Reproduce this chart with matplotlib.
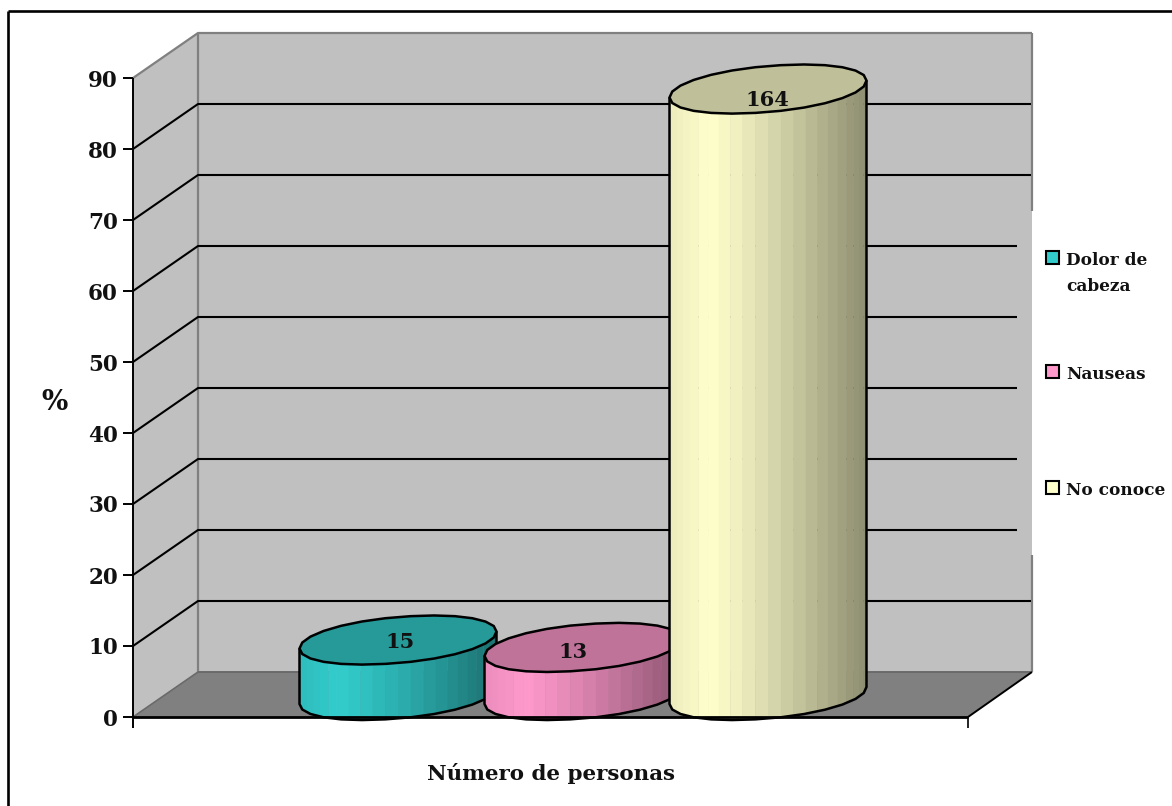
import numpy as np
import matplotlib
matplotlib.use("Agg")
import matplotlib.pyplot as plt
from matplotlib.patches import Polygon, Rectangle
from matplotlib.transforms import Affine2D

# Survey answers
categories = ["Dolor de\ncabeza", "Nauseas", "No conoce"]
counts = [15, 13, 164]
y_ticks = [0, 10, 20, 30, 40, 50, 60, 70, 80, 90]
x_title = "Número de personas"
y_title = "%"

# Side colours at their brightest, one per category
side_colors = [(51, 204, 204), (255, 153, 204), (255, 255, 204)]

W, H = 1172, 806
DPI = 100
FONT = "DejaVu Serif"
INK = "#111111"

percent = [c / sum(counts) * 100 for c in counts]

fig = plt.figure(figsize=(W / DPI, H / DPI), dpi=DPI, facecolor="white")
ax = fig.add_axes([0, 0, 1, 1])
ax.axis("off")

# Vertical scale: percent on the front plane of the 3D box, 7.1 px per unit
Y0_PX, PX_PER_UNIT = 717.0, 7.1
ax.set_ylim((Y0_PX - H) / PX_PER_UNIT, Y0_PX / PX_PER_UNIT)
# Horizontal scale: category index, columns 185 px apart
X0_PX, PX_PER_CAT = 398.0, 185.0
ax.set_xlim(-X0_PX / PX_PER_CAT, (W - X0_PX) / PX_PER_CAT)

# Layout elements are placed in pixels measured from the top-left corner
px = Affine2D().scale(1, -1).translate(0, H)

LEFT, RIGHT = 133, 968
DX, DY = 65, 45
BACK_BASE = Y0_PX - DY


def ypx(v, back=False):
    return (BACK_BASE if back else Y0_PX) - v * PX_PER_UNIT


def poly(points, **kw):
    ax.add_patch(Polygon(points, closed=True, transform=px, **kw))


def line(xs, ys, color="black", lw=1.4, z=2):
    ax.plot(xs, ys, color=color, lw=lw, transform=px, zorder=z, solid_capstyle="butt")


def rgb(c, f=1.0):
    return tuple(min(1, ch * f / 255) for ch in c)


# Frame around the chart: only its top and left edges fall inside the canvas
line([8, 8], [806, 11], "black", 1.9, 1)
line([8, 1172], [11, 11], "black", 1.9, 1)

# Walls and floor
top = ypx(y_ticks[-1])
top_b = ypx(y_ticks[-1], True)
poly([(LEFT + DX, top_b), (RIGHT + DX - 1, top_b), (RIGHT + DX - 1, BACK_BASE), (LEFT + DX, BACK_BASE)],
     facecolor="#c0c0c0", edgecolor="none", zorder=1)
poly([(LEFT, top), (LEFT + DX, top_b), (LEFT + DX, BACK_BASE), (LEFT, Y0_PX)],
     facecolor="#c0c0c0", edgecolor="none", zorder=1)
poly([(LEFT, Y0_PX), (LEFT + DX, BACK_BASE), (RIGHT + DX - 1, BACK_BASE), (RIGHT, Y0_PX)],
     facecolor="#808080", edgecolor="none", zorder=1)

GREY = "#808080"
line([LEFT, LEFT + DX, RIGHT + DX - 1], [top, top_b, top_b], GREY, 1.6)
line([LEFT + DX, LEFT + DX], [top_b, BACK_BASE], GREY, 1.6)
line([LEFT + DX, RIGHT + DX - 1], [BACK_BASE, BACK_BASE], "#6a6a6a", 1.4)
line([LEFT, LEFT + DX], [Y0_PX, BACK_BASE], "#6a6a6a", 1.2)
line([RIGHT + DX - 1, RIGHT + DX - 1], [top_b, 211], GREY, 1.6)
line([RIGHT + DX - 1, RIGHT + DX - 1], [555, BACK_BASE], GREY, 1.6)

# Gridlines: along the side wall, then across the back wall
for v in y_ticks[1:-1]:
    yb = ypx(v, True)
    end = RIGHT + DX - 16 if 211 < yb < 555 else RIGHT + DX - 2
    line([LEFT, LEFT + DX, end], [ypx(v), yb, yb], "black", 1.5)

# Cylinders, with base centres partway into the box depth
A, B, SHEAR = 98.5, 23.0, 8.5
POWER = 0.97  # below 1 squares the rim off slightly
BASE_LIFT = 21.5 / PX_PER_UNIT
SEGMENTS = 26
tt = np.linspace(0, 2 * np.pi, SEGMENTS + 1)
cc, ss = np.cos(tt), np.sin(tt)
rim_x = A * np.sign(cc) * np.abs(cc) ** POWER
# px, downward positive; the right end of the rim sits higher than the left
rim_y = B * np.sign(ss) * np.abs(ss) ** POWER - SHEAR * cc
lower = tt <= np.pi + 1e-9
lo_x, lo_y = rim_x[lower][::-1], rim_y[lower][::-1]

strip_edges = -A * np.cos(np.linspace(0, np.pi, 25))


def shade(frac):
    # Brightest near the left fifth, falling away to the right edge
    if frac < 0.2:
        return 0.92 + 0.08 * frac / 0.2
    return 1.0 - 0.45 * ((frac - 0.2) / 0.8) ** 1.15


for i, (value, col) in enumerate(zip(percent, side_colors)):
    cx_px = X0_PX + PX_PER_CAT * i
    base_py = ypx(BASE_LIFT)
    top_py = base_py - value * PX_PER_UNIT
    z = 3 + i
    for e0, e1 in zip(strip_edges[:-1], strip_edges[1:]):
        frac = ((e0 + e1) / 2 + A) / (2 * A)
        ys = np.interp([e0, e1], lo_x, lo_y)
        poly([(cx_px + e0, top_py + ys[0]), (cx_px + e1 + 0.4, top_py + ys[1]),
              (cx_px + e1 + 0.4, base_py + ys[1]), (cx_px + e0, base_py + ys[0])],
             facecolor=rgb(col, shade(frac)), edgecolor="none", zorder=z)
    # Outline of the side surface
    line(cx_px + np.r_[-A, lo_x, A],
         np.r_[top_py + SHEAR, base_py + lo_y, top_py - SHEAR],
         "black", 1.8, z + 0.1)
    # Top cap, darker than the side
    poly(np.c_[cx_px + rim_x, top_py + rim_y], facecolor=rgb(col, 0.75),
         edgecolor="black", lw=1.8, zorder=z + 0.2)

# Value labels on the caps
label_offsets = [(2, 0), (-10, 3), (-1, 9)]
for i, (count, value) in enumerate(zip(counts, percent)):
    ox, oy = label_offsets[i]
    ax.text(i + ox / PX_PER_CAT, BASE_LIFT + value - oy / PX_PER_UNIT, str(count),
            ha="center", va="center_baseline", fontsize=15, fontweight="bold",
            family=FONT, color=INK, zorder=8)

# Front axis lines and ticks, drawn over the column bases
line([LEFT, LEFT], [top, Y0_PX + 11], "black", 1.4, 9)
line([LEFT, RIGHT], [Y0_PX, Y0_PX], "black", 2.0, 9)
line([RIGHT, RIGHT], [Y0_PX, Y0_PX + 11], "black", 1.2, 9)
line([RIGHT, RIGHT + DX - 1], [Y0_PX, BACK_BASE], "black", 1.4, 9)
for v in y_ticks:
    line([LEFT - 10, LEFT], [ypx(v), ypx(v)], "black", 1.4, 9)
    ax.text(-(X0_PX - 118) / PX_PER_CAT, v, str(v), ha="right", va="center_baseline",
            fontsize=15.5, fontweight="bold", family=FONT, color=INK)

# Axis titles
ax.text(551, 771, x_title, transform=px, ha="center", va="center_baseline",
        fontsize=15.4, fontweight="bold", family=FONT, color=INK)
ax.text(54, 400, y_title, transform=px, ha="center", va="center_baseline",
        fontsize=20, fontweight="bold", family=FONT, color=INK)

# Legend
legend_rows = [(251, 265), (365, 379), (481, 495)]
for (sy, base), name, col in zip(legend_rows, categories, side_colors):
    ax.add_patch(Rectangle((1045.5, sy), 13, 13, transform=px, facecolor=rgb(col),
                           edgecolor="black", lw=1.5, zorder=6))
    for k, part in enumerate(name.split("\n")):
        ax.text(1066, base + 26 * k, part, transform=px, ha="left", va="baseline",
                fontsize=12.2, fontweight="bold", family=FONT, color=INK)

fig.savefig("out.png", dpi=DPI, facecolor="white")
